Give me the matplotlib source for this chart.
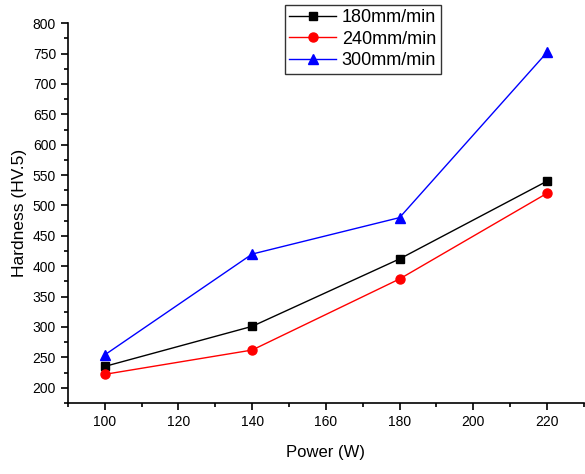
import matplotlib
matplotlib.use('Agg')
import matplotlib.pyplot as plt
from matplotlib.ticker import MultipleLocator

plt.rcParams['font.family'] = ['Liberation Sans', 'DejaVu Sans']

# laser power (W) and hardness readings for each scan speed
power = [100, 140, 180, 220]
hv_180 = [235, 301, 412, 540]
hv_240 = [222, 262, 379, 520]
hv_300 = [254, 420, 480, 752]

fig = plt.figure(figsize=(5.85, 4.74), dpi=100)
ax = fig.add_axes([0.116, 0.150, 0.882, 0.801])

ax.plot(power, hv_180, color='black', marker='s', markersize=5.5, linewidth=1, label='180mm/min')
ax.plot(power, hv_240, color='red', marker='o', markersize=6.5, linewidth=1, label='240mm/min')
ax.plot(power, hv_300, color='blue', marker='^', markersize=7, linewidth=1, label='300mm/min')

ax.set_xlim(90, 230)
ax.set_ylim(175, 800)
ax.xaxis.set_major_locator(MultipleLocator(20))
ax.xaxis.set_minor_locator(MultipleLocator(10))
ax.yaxis.set_major_locator(MultipleLocator(50))
ax.yaxis.set_minor_locator(MultipleLocator(25))

ax.spines['top'].set_visible(False)
ax.spines['right'].set_visible(False)
ax.spines['left'].set_linewidth(1.2)
ax.spines['bottom'].set_linewidth(1.2)
ax.tick_params(which='major', direction='out', length=5, width=1.2, labelsize=10)
ax.tick_params(which='minor', direction='out', length=3, width=1.2)

ax.set_xlabel('Power (W)', fontsize=12, labelpad=12)
ax.set_ylabel('Hardness (HV.5)', fontsize=12.5, labelpad=4)

leg = fig.legend(loc='upper left', bbox_to_anchor=(0.487, 0.99), fontsize=13,
                 frameon=True, fancybox=False, edgecolor='black',
                 borderpad=0.25, labelspacing=0.25, handlelength=2.6,
                 handletextpad=0.3, borderaxespad=0)
leg.get_frame().set_linewidth(1)

fig.savefig('out.png', dpi=100)
